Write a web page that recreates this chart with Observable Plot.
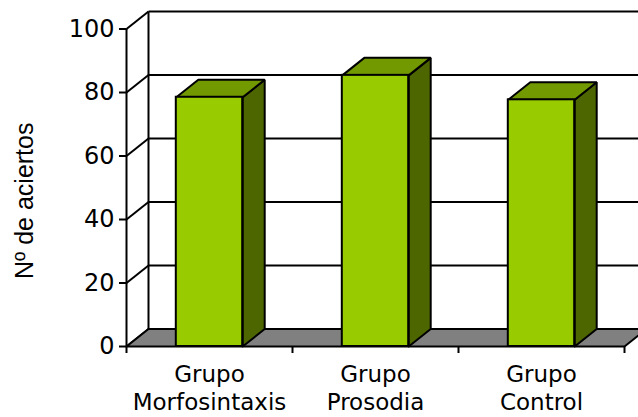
<!DOCTYPE html>
<html><head><meta charset="utf-8">
<script src="https://cdn.jsdelivr.net/npm/d3@7"></script>
<script src="https://cdn.jsdelivr.net/npm/@observablehq/plot@0.6"></script>
<style>body{margin:0;background:#fff}</style>
</head><body><div id="chart"></div>
<script>
const categories = ["Grupo\nMorfosintaxis", "Grupo\nProsodia", "Grupo\nControl"];
const values = [78.5, 85.4, 77.7];
const yTicks = [0, 20, 40, 60, 80, 100];
const yLabel = "Nº de aciertos";

const W = 638, H = 417;
const mL = 126, mR = 14, mT = 28.5, mB = 71;
const DX = 22, DY = 17.5; // depth in pixels
const n = categories.length;
const dx = DX * n / (W - mL - mR);
const dy = DY * 100 / (H - mT - mB);
const colors = {front: "#99CC00", top: "#739900", side: "#4D6600", floor: "#808080"};

const polys = [];
function addPoly(id, kind, pts) {
  pts.concat([pts[0]]).forEach(([x, y]) => polys.push({id, kind, x, y}));
}
addPoly("floor", "floor", [[0, 0], [n, 0], [n + dx, dy], [dx, dy]]);
values.forEach((v, i) => {
  const xl = i + 0.3, xr = i + 0.7;
  addPoly("side" + i, "side", [[xr, 0], [xr, v], [xr + dx, v + dy], [xr + dx, dy]]);
  addPoly("top" + i, "top", [[xl, v], [xr, v], [xr + dx, v + dy], [xl + dx, v + dy]]);
});
const bars = values.map((v, i) => ({i, v}));
const kindLine = (kind) => Plot.line(polys.filter(d => d.kind === kind), {
  x: "x", y: "y", z: "id", fill: colors[kind], stroke: "black", strokeWidth: 2, strokeLinejoin: "miter"
});

const chart = Plot.plot({
  width: W, height: H,
  marginLeft: mL, marginRight: mR, marginTop: mT, marginBottom: mB,
  x: {domain: [0, n], axis: null},
  y: {domain: [0, 100], axis: null},
  style: {fontFamily: "DejaVu Sans", fontSize: "24px", color: "black", background: "white"},
  marks: [
    Plot.link(yTicks, {x1: () => dx, x2: () => n + dx + 0.2, y1: t => t + dy, y2: t => t + dy, stroke: "black", strokeWidth: 2}),
    Plot.link([0], {x1: () => dx, x2: () => dx, y1: () => dy, y2: () => 100 + dy, stroke: "black", strokeWidth: 2}),
    Plot.link(yTicks, {x1: () => 0, x2: () => dx, y1: t => t, y2: t => t + dy, stroke: "black", strokeWidth: 2}),
    kindLine("floor"),
    kindLine("side"),
    kindLine("top"),
    Plot.rect(bars, {x1: d => d.i + 0.3, x2: d => d.i + 0.7, y1: () => 0, y2: "v", fill: colors.front, stroke: "black", strokeWidth: 2}),
    Plot.ruleX([0], {y1: () => 0, y2: () => 100, stroke: "black", strokeWidth: 2}),
    Plot.axisY(yTicks, {tickSize: 7, tickPadding: 5, strokeWidth: 2, fontSize: 24, label: null}),
    Plot.axisX(d3.range(n + 1), {tickSize: 7, tickFormat: () => "", strokeWidth: 2, label: null}),
    Plot.text(categories, {x: (d, i) => i + 0.5, y: () => 0, dy: 15, lineAnchor: "top", lineHeight: 1.24, fontSize: 23, fill: "black"}),
    Plot.text([yLabel], {frameAnchor: "left", textAnchor: "middle", dx: -102, dy: 13, rotate: -90, fontSize: 25, fontFamily: "Liberation Sans", fill: "black"})
  ]
});
document.getElementById("chart").append(chart);
</script>
</body></html>
